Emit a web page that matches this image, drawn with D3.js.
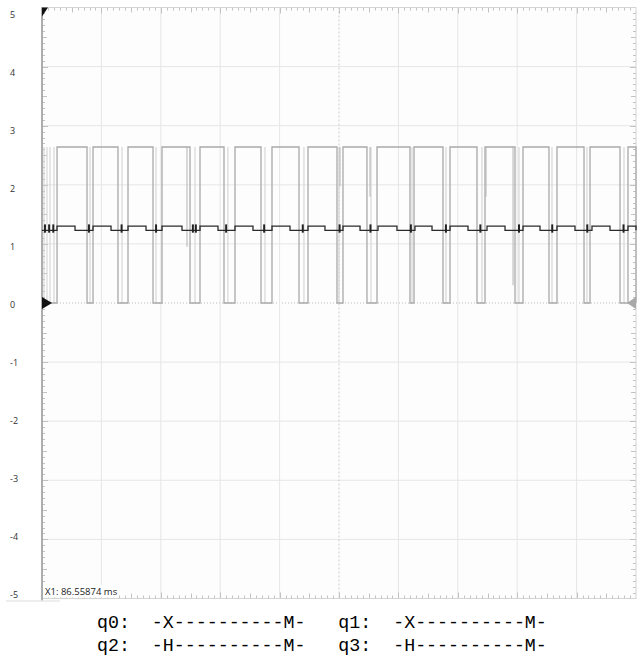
<!DOCTYPE html>
<html>
<head>
<meta charset="utf-8">
<script src="https://cdn.jsdelivr.net/npm/d3@7"></script>
<style>
  body { margin: 0; background: #fff; }
  svg { display: block; }
</style>
</head>
<body>
<svg id="chart"></svg>
<script>
// y axis tick labels (volts)
const yTicks = [5, 4, 3, 2, 1, 0, -1, -2, -3, -4, -5];

// gray channel: high intervals [rise, fall] in ms (0..100 across the screen)
const grayHigh = [
    [2.53, 7.58], [8.59, 12.79], [14.48, 18.69], [20.20, 24.92], [26.60, 30.64],
    [32.49, 36.87], [38.72, 43.27], [44.78, 49.66], [50.67, 54.71], [56.40, 61.95],
    [62.63, 67.51], [68.69, 73.23], [74.58, 79.63], [80.98, 85.35], [86.70, 91.25],
    [92.26, 97.31], [98.65, 100]
];
const grayLevel = 2.64;
// extra persistence edges of the gray channel (full height)
const grayEdges = [
    0.34, 0.84, 1.35, 2.02, 8.08, 13.47, 19.19, 25.76, 31.30, 37.54, 44.10,
    50.00, 55.39, 62.29, 68.01, 74.07, 80.30, 85.86, 91.75, 97.98
];
// partial drops of the gray channel [time, lowest value]
const graySpikes = [[24.41, 0.95], [50.17, 1.97], [55.22, 1.80], [74.75, 1.80], [79.30, 0.30]];

// black channel: high intervals, levels
const blackHigh = [
    [2.53, 5.56], [8.59, 11.62], [14.48, 17.51], [20.20, 23.57], [26.60, 29.63],
    [32.49, 35.52], [38.72, 41.75], [44.78, 47.64], [50.67, 53.54], [56.57, 59.76],
    [62.79, 65.66], [68.69, 71.72], [74.92, 77.95], [80.98, 83.84], [86.70, 89.73],
    [92.59, 95.62], [98.65, 100]
];
const blackHiLevel = 1.30;
const blackLoLevel = 1.23;
// noise blips on the black channel at gray edges
const blackBlips = [
    0.5, 1.2, 1.9, 7.9, 13.4, 19.2, 25.4, 25.9, 31.0, 37.4, 43.9, 50.1, 55.3,
    62.1, 68.0, 73.8, 80.3, 85.9, 91.8, 97.9
];
const blipLow = 1.19;
const blipHigh = 1.33;

const cursorLabel = 'X1: 86.55874 ms';

// circuit text below the scope
const qubits = ['q0:', 'q1:', 'q2:', 'q3:'];
const gates = ['-X----------M-', '-X----------M-', '-H----------M-', '-H----------M-'];

const width = 640;
const height = 655;

const svg = d3.select('#chart')
    .attr('width', width)
    .attr('height', height);

const x = d3.scaleLinear().domain([0, 100]).range([42, 636]);
const y = d3.scaleLinear().domain([-5, 5]).range([598.5, 7.5]);
const labelY = d3.scaleLinear().domain([-5, 5]).range([595, 15]);

// plot background
svg.append('rect')
    .attr('x', x(0)).attr('y', y(5))
    .attr('width', x(100) - x(0)).attr('height', y(-5) - y(5))
    .attr('fill', '#fdfdfd');

// grid
const grid = svg.append('g');
grid.selectAll('.hg')
    .data(d3.range(-4, 5))
    .enter().append('line')
    .attr('x1', x(0)).attr('x2', x(100))
    .attr('y1', d => y(d)).attr('y2', d => y(d))
    .attr('stroke', d => d === 0 ? '#bbb' : '#e6e6e6')
    .attr('stroke-dasharray', d => d === 0 ? '1,2' : null)
    .attr('stroke-width', 1);

grid.selectAll('.vg')
    .data(d3.range(10, 100, 10))
    .enter().append('line')
    .attr('y1', y(5)).attr('y2', y(-5))
    .attr('x1', d => x(d)).attr('x2', d => x(d))
    .attr('stroke', d => d === 50 ? '#cccccc' : '#e6e6e6')
    .attr('stroke-dasharray', d => d === 50 ? '2,2' : null)
    .attr('stroke-width', 1);

// minor ticks on all four sides
const ticks = svg.append('g').attr('stroke', '#c2c2c2').attr('stroke-width', 1);
const tickLen = i => (i % 10 === 0 ? 6 : i % 5 === 0 ? 5 : 3);
d3.range(1, 100).forEach(i => {
    const px = Math.round(x(i)) + 0.5;
    ticks.append('line').attr('x1', px).attr('x2', px)
        .attr('y1', y(5)).attr('y2', y(5) + tickLen(i));
    ticks.append('line').attr('x1', px).attr('x2', px)
        .attr('y1', y(-5)).attr('y2', y(-5) - tickLen(i));
});
d3.range(1, 100).forEach(i => {
    const v = -5 + i / 10;
    const py = Math.round(y(v)) + 0.5;
    ticks.append('line').attr('y1', py).attr('y2', py)
        .attr('x1', x(0)).attr('x2', x(0) + tickLen(i));
    ticks.append('line').attr('y1', py).attr('y2', py)
        .attr('x1', x(100)).attr('x2', x(100) - tickLen(i));
});

// frame
svg.append('rect')
    .attr('x', x(0)).attr('y', y(5))
    .attr('width', x(100) - x(0)).attr('height', y(-5) - y(5))
    .attr('fill', 'none').attr('stroke', '#d4d4d4');
svg.append('line')
    .attr('x1', x(0)).attr('x2', x(0))
    .attr('y1', y(5)).attr('y2', y(-5) + 2)
    .attr('stroke', '#9a9a9a').attr('stroke-width', 1.5);
svg.append('line')
    .attr('x1', 6).attr('x2', 60)
    .attr('y1', y(-5) + 2.5).attr('y2', y(-5) + 2.5)
    .attr('stroke', '#ddd');

// y labels
svg.append('g')
    .selectAll('text')
    .data(yTicks)
    .enter().append('text')
    .attr('x', 10)
    .attr('y', d => labelY(d))
    .attr('dy', '0.35em')
    .attr('font-family', 'Open Sans, sans-serif')
    .attr('font-size', '9px')
    .attr('fill', '#333')
    .text(d => d);

// gray channel trace
const line = d3.line().x(d => x(d[0])).y(d => y(d[1]));
const grayPts = [[0, 0]];
grayHigh.forEach(([a, b]) => {
    grayPts.push([a, 0], [a, grayLevel], [b, grayLevel], [b, 0]);
});

svg.append('g')
    .selectAll('line')
    .data(grayEdges)
    .enter().append('line')
    .attr('x1', d => x(d)).attr('x2', d => x(d))
    .attr('y1', y(0)).attr('y2', y(grayLevel))
    .attr('stroke', '#cfcfcf').attr('stroke-width', 1);

svg.append('path')
    .datum(grayPts)
    .attr('d', line)
    .attr('fill', 'none')
    .attr('stroke', '#a9a9a9')
    .attr('stroke-width', 1.3);

svg.append('g')
    .selectAll('line')
    .data(graySpikes)
    .enter().append('line')
    .attr('x1', d => x(d[0])).attr('x2', d => x(d[0]))
    .attr('y1', y(grayLevel)).attr('y2', d => y(d[1]))
    .attr('stroke', '#b4b4b4').attr('stroke-width', 1);

// black channel trace
const blackPts = [[0, blackLoLevel]];
blackHigh.forEach(([a, b]) => {
    blackPts.push([a, blackLoLevel], [a, blackHiLevel], [b, blackHiLevel], [b, blackLoLevel]);
});
svg.append('path')
    .datum(blackPts)
    .attr('d', line)
    .attr('fill', 'none')
    .attr('stroke', '#2a2a2a')
    .attr('stroke-width', 1.3);

svg.append('g')
    .selectAll('line')
    .data(blackBlips)
    .enter().append('line')
    .attr('x1', d => x(d)).attr('x2', d => x(d))
    .attr('y1', y(blipLow)).attr('y2', y(blipHigh))
    .attr('stroke', '#222').attr('stroke-width', 2);

// markers
const tri = d3.line();
svg.append('path')
    .attr('d', tri([[x(0), y(5)], [x(0) + 6, y(5)], [x(0), y(5) + 9]]) + 'Z')
    .attr('fill', '#111');
svg.append('path')
    .attr('d', tri([[x(0), y(0) - 6], [x(0) + 10, y(0)], [x(0), y(0) + 6]]) + 'Z')
    .attr('fill', '#111');
svg.append('path')
    .attr('d', tri([[x(100), y(0) - 6], [x(100) - 9, y(0)], [x(100), y(0) + 6]]) + 'Z')
    .attr('fill', '#a8a8a8');

// cursor label
svg.append('rect')
    .attr('x', x(0) + 1).attr('y', y(-5) - 14)
    .attr('width', 74).attr('height', 13)
    .attr('fill', '#fff');
svg.append('text')
    .attr('x', x(0) + 3)
    .attr('y', y(-5) - 4)
    .attr('font-family', 'Open Sans, sans-serif')
    .attr('font-size', '9.5px')
    .attr('fill', '#222')
    .text(cursorLabel);

// circuit text
const rows = [[0, 1], [2, 3]];
svg.append('g')
    .selectAll('text')
    .data(rows)
    .enter().append('text')
    .attr('x', 97)
    .attr('y', (d, i) => 628 + i * 23)
    .attr('xml:space', 'preserve')
    .style('white-space', 'pre')
    .attr('font-family', 'Liberation Mono, Courier New, monospace')
    .attr('font-size', '18.3px')
    .attr('fill', '#000')
    .text(d => d.map(i => qubits[i] + '  ' + gates[i]).join('   '));
</script>
</body>
</html>
